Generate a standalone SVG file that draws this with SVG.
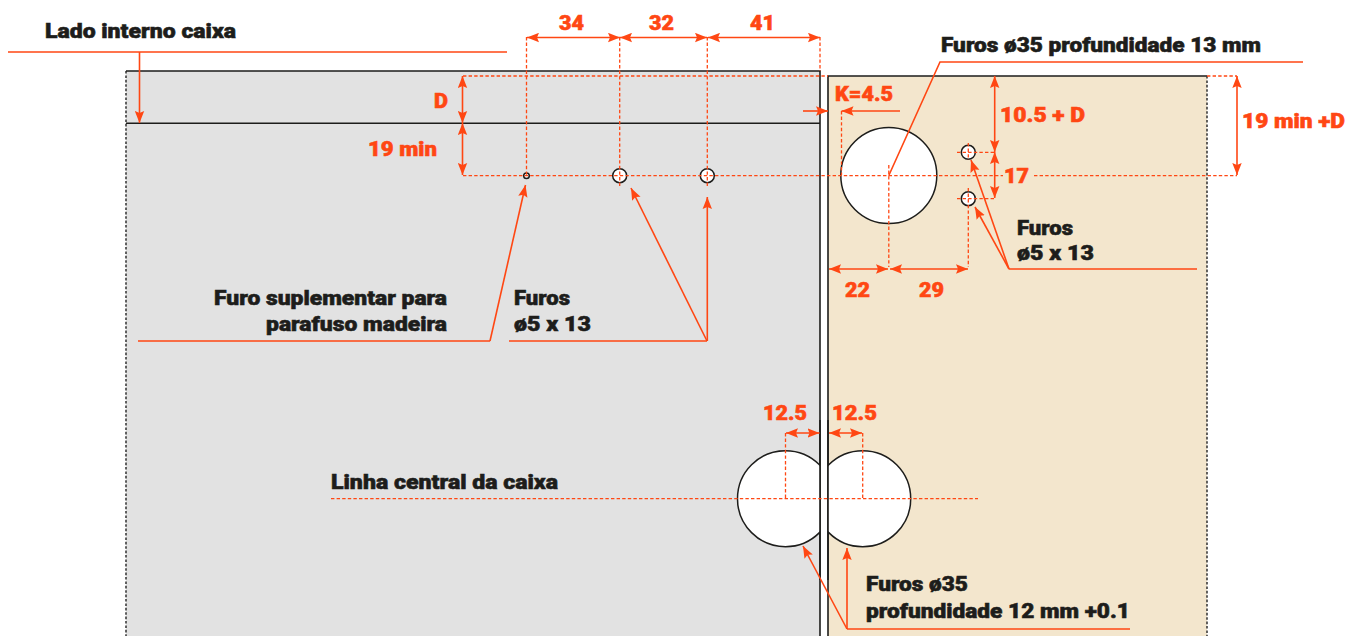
<svg xmlns="http://www.w3.org/2000/svg" width="1347" height="636" viewBox="0 0 1347 636">
<style>
text{font-family:Roboto,"Liberation Sans",sans-serif;font-weight:900;font-size:20px;stroke-width:.55;paint-order:stroke}
.k{fill:#1d1d1b;stroke:#1d1d1b}
.o{fill:#ff4713;stroke:#ff4713}
.s{fill:none;stroke:#ff4713;stroke-width:1.6}
.a{marker-end:url(#h)}
.b{marker-start:url(#h);marker-end:url(#h)}
.d{fill:none;stroke:#ff4713;stroke-width:1.3;stroke-dasharray:3.4 2.2}
.e{fill:none;stroke:#1d1d1b;stroke-width:1.6}
.p{fill:none;stroke:#3c3c3c;stroke-width:1.6;stroke-dasharray:2.6 1.8}
.c{fill:#fff;stroke:#1d1d1b;stroke-width:1.5}
</style>
<defs>
<marker id="h" markerUnits="userSpaceOnUse" viewBox="0 0 12 10" refX="12" refY="5" markerWidth="12" markerHeight="10" orient="auto-start-reverse"><path d="M0 0.300L12 5L0 9.700L2 5Z" fill="#ff4713"/></marker>
<clipPath id="cl"><rect x="126" y="71" width="694" height="565"/></clipPath>
<clipPath id="cr"><rect x="828" y="76" width="379" height="560"/></clipPath>
</defs>
<rect width="1347" height="636" fill="#fff"/>
<g id="panel-caixa">
<rect x="126" y="71" width="694" height="565" fill="#e2e2e2"/>
<path class="p" d="M126 71V636"/>
<path class="e" d="M126 71H820V636M126 123.300H820"/>
</g>
<g id="panel-porta">
<rect x="828" y="76" width="379" height="560" fill="#f3e6cd"/>
<path class="e" d="M828 636V76H1207"/>
<path class="p" d="M1207 76V636"/>
</g>
<g id="furos-caixa">
<circle class="c" cx="526.500" cy="175.700" r="2.800" fill="none"/>
<circle class="c" cx="619.700" cy="175.700" r="7"/>
<circle class="c" cx="707.300" cy="175.700" r="7"/>
</g>
<g id="furos-porta">
<circle class="c" cx="888.800" cy="175.500" r="48"/>
<circle class="c" cx="968.300" cy="152.300" r="7"/>
<circle class="c" cx="968.300" cy="198.700" r="7"/>
</g>
<g id="furos-centro">
<circle class="c" cx="785.500" cy="498.700" r="48" clip-path="url(#cl)"/>
<circle class="c" cx="862.700" cy="498.700" r="48" clip-path="url(#cr)"/>
<path class="e" d="M820 420V580M828 420V580"/>
</g>
<g id="connectors">
<path class="d" d="M463 76H828M1207 76H1237M463 175.700H1003M1034 175.700H1237M526.500 37V176M619.700 37V188M707.300 37V186M820 37V71M841.500 111V175M957 152.300H995M957 198.700H995M968.300 143V160M968.300 188V267M888.800 165V267M785.500 433V499M862.700 433V499M331 498.700H978"/>
<path class="s" d="M8 52H507M1303 62H940L888.800 175.500M138 341H490M509 341H707M1197 269H1009M847 629H1130"/>
<path class="s a" d="M139.500 52V123"/>
<path class="s a" d="M490 341L525.500 185"/>
<path class="s a" d="M707 341L631 188"/>
<path class="s a" d="M707.300 341V197"/>
<path class="s a" d="M1009 269L971 160"/>
<path class="s a" d="M1009 269L975 207"/>
<path class="s a" d="M847 629L803 546"/>
<path class="s a" d="M847 629V548"/>
<path class="s a" d="M803 111H828"/>
<path class="s a" d="M900 111H841.500"/>
<path class="s b" d="M527 37.500H620"/>
<path class="s b" d="M620 37.500H707"/>
<path class="s b" d="M708 37.500H820"/>
<path class="s b" d="M462.500 76V123"/>
<path class="s b" d="M462.500 123V175"/>
<path class="s b" d="M994.700 76V152"/>
<path class="s b" d="M994.700 152V198"/>
<path class="s b" d="M1237 76V175"/>
<path class="s b" d="M829 269H888"/>
<path class="s b" d="M890 269H968"/>
<path class="s b" d="M786 433H819.500"/>
<path class="s b" d="M829 433H862"/>
</g>
<g id="labels">
<text class="k" x="45" y="37.500" textLength="191" lengthAdjust="spacingAndGlyphs">Lado interno caixa</text>
<text class="k" x="941" y="51.500" textLength="320" lengthAdjust="spacingAndGlyphs">Furos ø35 profundidade 13 mm</text>
<text class="k" x="1017" y="234.500" textLength="56" lengthAdjust="spacingAndGlyphs">Furos</text>
<text class="k" x="1017" y="260" textLength="77" lengthAdjust="spacingAndGlyphs">ø5 x 13</text>
<text class="k" x="514" y="304.500" textLength="56" lengthAdjust="spacingAndGlyphs">Furos</text>
<text class="k" x="514" y="330.500" textLength="77" lengthAdjust="spacingAndGlyphs">ø5 x 13</text>
<text class="k" x="214" y="304.500" textLength="233" lengthAdjust="spacingAndGlyphs">Furo suplementar para</text>
<text class="k" x="266" y="330.500" textLength="181" lengthAdjust="spacingAndGlyphs">parafuso madeira</text>
<text class="k" x="331" y="489" textLength="227" lengthAdjust="spacingAndGlyphs">Linha central da caixa</text>
<text class="k" x="866" y="591" textLength="102" lengthAdjust="spacingAndGlyphs">Furos ø35</text>
<text class="k" x="866" y="617.500" textLength="264" lengthAdjust="spacingAndGlyphs">profundidade 12 mm +0.1</text>
<text class="o" x="559" y="30" textLength="25" lengthAdjust="spacingAndGlyphs">34</text>
<text class="o" x="649" y="30" textLength="25" lengthAdjust="spacingAndGlyphs">32</text>
<text class="o" x="750" y="30" textLength="25" lengthAdjust="spacingAndGlyphs">41</text>
<text class="o" x="434" y="108" textLength="14" lengthAdjust="spacingAndGlyphs">D</text>
<text class="o" x="368" y="156" textLength="69" lengthAdjust="spacingAndGlyphs">19 min</text>
<text class="o" x="835" y="101" textLength="58" lengthAdjust="spacingAndGlyphs">K=4.5</text>
<text class="o" x="1000" y="122" textLength="85" lengthAdjust="spacingAndGlyphs">10.5 + D</text>
<text class="o" x="1004" y="183" textLength="25" lengthAdjust="spacingAndGlyphs">17</text>
<text class="o" x="845" y="297" textLength="25" lengthAdjust="spacingAndGlyphs">22</text>
<text class="o" x="919" y="297" textLength="25" lengthAdjust="spacingAndGlyphs">29</text>
<text class="o" x="1242" y="128" textLength="103" lengthAdjust="spacingAndGlyphs">19 min +D</text>
<text class="o" x="763" y="420" textLength="44" lengthAdjust="spacingAndGlyphs">12.5</text>
<text class="o" x="832" y="420" textLength="45" lengthAdjust="spacingAndGlyphs">12.5</text>
</g>
</svg>
